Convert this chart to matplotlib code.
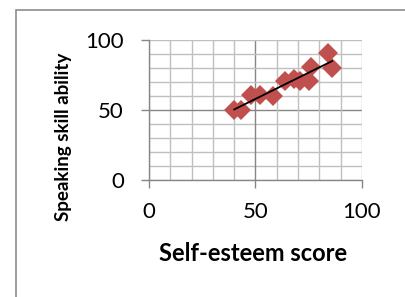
import matplotlib.pyplot as plt
import numpy as np
from matplotlib.patches import Rectangle

plt.rcParams['font.family'] = ['Lato', 'DejaVu Sans']

self_esteem = [40, 43, 48, 52, 58, 64, 68, 71, 75, 76, 84, 86]
speaking = [50, 50, 61, 61, 60, 71, 72, 71, 71, 81, 91, 80]
ticks = [0, 50, 100]

fig = plt.figure(figsize=(4.06, 2.97), dpi=100)
ax = fig.add_axes([149 / 406, 1 - 180 / 297, 213 / 406, 140 / 297])

# outer chart border (only left and top visible in the crop)
fig.patches.append(Rectangle((16 / 406, -0.1), 1.2, 1 - 10 / 297 + 0.1,
                             transform=fig.transFigure, fill=False,
                             edgecolor='#8c8c8c', linewidth=1.2))

minor = np.arange(0, 101, 10)
for v in minor:
    c = '#868686' if v == 50 else '#c0c0c0'
    ax.axvline(v, color=c, linewidth=1.0, zorder=0)
    ax.axhline(v, color=c, linewidth=1.0, zorder=0)

ax.plot(self_esteem, speaking, 'D', color='#c0504d', markersize=10,
        markeredgewidth=0, zorder=2)

slope, icpt = np.polyfit(self_esteem, speaking, 1)
xs = np.array([min(self_esteem), max(self_esteem)])
ax.plot(xs, slope * xs + icpt, color='black', linewidth=1.3, zorder=3)

ax.set_xlim(0, 100)
ax.set_ylim(0, 100)
ax.set_xticks(ticks)
ax.set_yticks(ticks)
ax.tick_params(direction='out', length=6, width=1.0, color='#868686',
               labelsize=16)
ax.tick_params(axis='y', pad=12)
ax.tick_params(axis='x', pad=10)
for s in ['top', 'right']:
    ax.spines[s].set_visible(False)
for s in ['left', 'bottom']:
    ax.spines[s].set_color('#868686')
    ax.spines[s].set_linewidth(1.0)
for sp in ax.spines.values():
    sp.set_zorder(1)

ax.set_xlabel('Self-esteem score', fontsize=17, fontweight='bold')
ax.set_ylabel('Speaking skill ability', fontsize=13.5, fontweight='bold')
ax.xaxis.set_label_coords(0.49, -0.44)
ax.yaxis.set_label_coords(-0.36, 0.31)

fig.savefig('out.png', dpi=100)
